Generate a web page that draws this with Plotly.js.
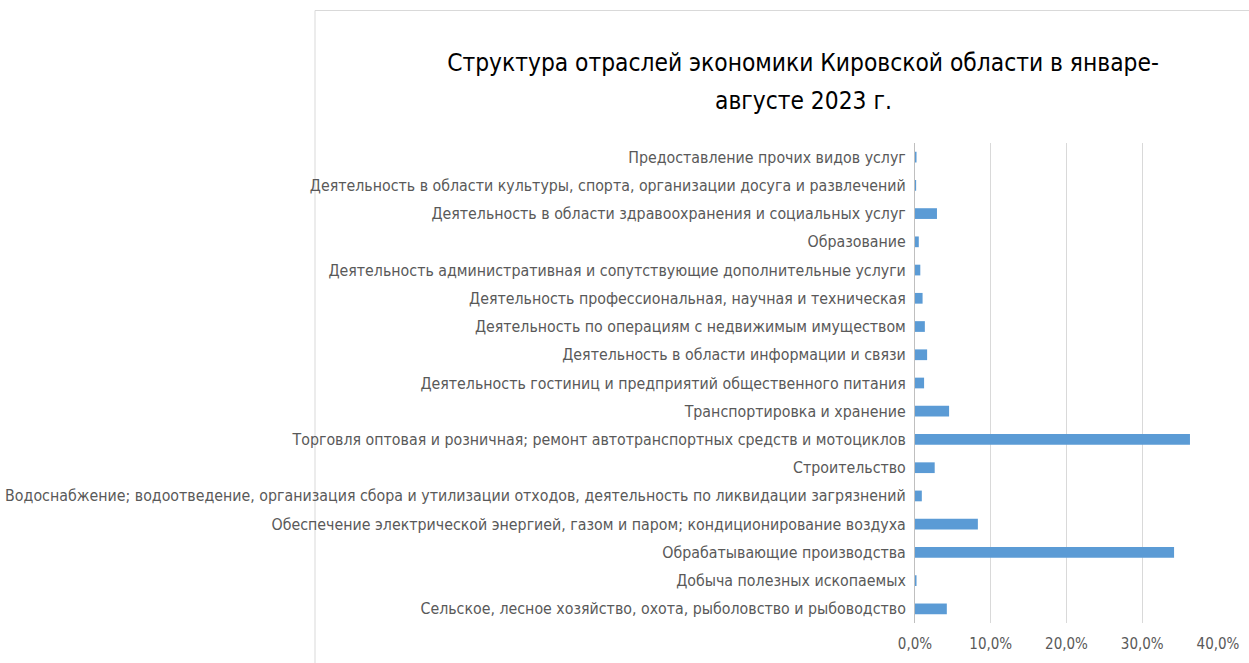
<!DOCTYPE html>
<html><head><meta charset="utf-8">
<script src="https://cdn.plot.ly/plotly-3.0.1.min.js"></script>
<style>html,body{margin:0;padding:0;background:#fff;}</style>
</head><body>
<div id="chart" style="width:1249px;height:663px;"></div>
<script>
const categories = [
  "Сельское, лесное хозяйство, охота, рыболовство и рыбоводство",
  "Добыча полезных ископаемых",
  "Обрабатывающие производства",
  "Обеспечение электрической энергией, газом и паром; кондиционирование воздуха",
  "Водоснабжение; водоотведение, организация сбора и утилизации отходов, деятельность по ликвидации загрязнений",
  "Строительство",
  "Торговля оптовая и розничная; ремонт автотранспортных средств и мотоциклов",
  "Транспортировка и хранение",
  "Деятельность гостиниц и предприятий общественного питания",
  "Деятельность в области информации и связи",
  "Деятельность по операциям с недвижимым имуществом",
  "Деятельность профессиональная, научная и техническая",
  "Деятельность административная и сопутствующие дополнительные услуги",
  "Образование",
  "Деятельность в области здравоохранения и социальных услуг",
  "Деятельность в области культуры, спорта, организации досуга и развлечений",
  "Предоставление прочих видов услуг"
];
const shares = [0.042, 0.002, 0.342, 0.083, 0.009, 0.026, 0.363, 0.045, 0.012, 0.016, 0.013, 0.010, 0.007, 0.005, 0.029, 0.0015, 0.002];
const tickValues = [0, 0.1, 0.2, 0.3, 0.4];
const titleLine1 = 'Структура отраслей экономики Кировской области в январе-';
const titleLine2 = 'августе 2023 г.';

const W = 1249, H = 663;
const FONT = '"DejaVu Sans Condensed", "Liberation Sans Narrow", sans-serif';
const trace = {
  type: 'bar', orientation: 'h',
  x: shares, y: categories,
  marker: {color: '#5B9BD5'},
  hoverinfo: 'x+y'
};
const layout = {
  width: W, height: H,
  margin: {l: 915, r: 31, t: 143, b: 40, pad: 0},
  paper_bgcolor: '#ffffff', plot_bgcolor: '#ffffff',
  separators: ', ',
  bargap: 0.62,
  showlegend: false,
  font: {family: FONT, color: '#595959', size: 15.8},
  title: {
    text: titleLine1,
    font: {family: FONT, size: 24.3, color: '#000000'},
    xref: 'container', yref: 'container',
    x: 803 / W, xanchor: 'center',
    y: 1 - 62 / H, yanchor: 'middle'
  },
  annotations: [{
    text: titleLine2,
    font: {family: FONT, size: 24.3, color: '#000000'},
    xref: 'paper', yref: 'paper',
    x: (803 - 915) / (W - 915 - 31), xanchor: 'center',
    y: 1 + (143 - 100) / (H - 143 - 40), yanchor: 'middle',
    showarrow: false
  }],
  xaxis: {
    range: [0, 0.4], tickvals: tickValues, tickformat: '.1%',
    showgrid: true, gridcolor: '#D9D9D9', gridwidth: 1,
    zeroline: false, showline: false, ticks: '',
    ticklabelstandoff: 10,
    tickfont: {size: 15, color: '#595959'},
    fixedrange: true
  },
  yaxis: {
    type: 'category', autorange: false, range: [-0.5, 16.5],
    showgrid: false, zeroline: false,
    showline: true, linecolor: '#BFBFBF', linewidth: 1,
    ticks: '', ticklabelstandoff: 5,
    tickfont: {size: 15.8, color: '#595959'},
    fixedrange: true
  },
  shapes: [{
    type: 'rect', xref: 'paper', yref: 'paper',
    x0: (315 - 915) / (W - 915 - 31), x1: 1.2,
    y0: -0.2, y1: 1 + (143 - 10.5) / (H - 143 - 40),
    line: {color: '#D9D9D9', width: 1}, layer: 'below'
  }]
};
Plotly.newPlot('chart', [trace], layout, {displayModeBar: false, staticPlot: true});
</script>
</body></html>
